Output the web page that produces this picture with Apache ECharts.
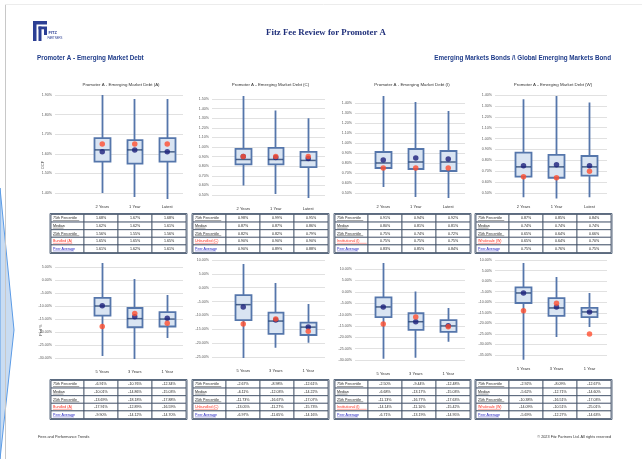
<!DOCTYPE html>
<html>
<head>
<meta charset="utf-8">
<script src="https://cdn.jsdelivr.net/npm/echarts@6/dist/echarts.min.js"></script>
<style>
  html, body { margin: 0; padding: 0; background: #fff; }
  #page { width: 642px; height: 459px; }
</style>
</head>
<body>
<div id="page"></div>
<script>
// categories
const topCats = ['2 Years', '1 Year', 'Latest'];
const bottomCats = ['5 Years', '3 Years', '1 Year'];
const shareClasses = ['Bundled (A)', 'Unbundled (C)', 'Institutional (I)', 'Wholesale (W)'];
const panelTitles = ['Promoter A - Emerging Market Debt (A)', 'Promoter A - Emerging Market Debt (C)',
  'Promoter A - Emerging Market Debt (I)', 'Promoter A - Emerging Market Debt (W)'];

// ongoing charges, % : [min, 25th, median, 75th, max] per period
const feeA = [[1.40, 1.56, 1.62, 1.68, 1.90], [1.38, 1.55, 1.62, 1.67, 1.88], [1.37, 1.56, 1.61, 1.68, 1.88]];
const feeC = [[0.60, 0.82, 0.87, 0.98, 1.53], [0.51, 0.82, 0.87, 0.99, 1.38], [0.47, 0.79, 0.86, 0.95, 1.30]];
const feeI = [[0.56, 0.75, 0.80, 0.91, 1.47], [0.46, 0.74, 0.81, 0.94, 1.41], [0.45, 0.72, 0.81, 0.92, 1.32]];
const feeW = [[0.46, 0.65, 0.74, 0.87, 1.36], [0.45, 0.64, 0.74, 0.85, 1.39], [0.46, 0.66, 0.74, 0.84, 1.33]];
const feeShare = [[1.65, 1.65, 1.65], [0.90, 0.90, 0.90], [0.75, 0.75, 0.75], [0.65, 0.64, 0.70]];
const feePeer = [[1.61, 1.62, 1.61], [0.90, 0.89, 0.88], [0.83, 0.85, 0.84], [0.75, 0.76, 0.75]];

// performance, % : [min, 25th, median, 75th, max] per period
const perfA = [[-29.2, -13.69, -10.01, -6.91, 6.5], [-30.4, -18.18, -14.86, -10.76, 0.4], [-22.3, -17.88, -15.03, -12.34, -5.8]];
const perfC = [[-25.4, -11.73, -6.11, -2.67, 8.6], [-21.7, -16.67, -12.03, -8.98, 1.7], [-19.9, -17.07, -14.22, -12.61, -5.9]];
const perfI = [[-29.5, -11.13, -6.68, -2.50, 12.6], [-29.0, -16.77, -13.17, -9.44, 0.1], [-22.0, -17.63, -15.03, -12.48, -7.1]];
const perfW = [[-37.3, -10.38, -5.62, -2.92, 8.6], [-26.5, -16.51, -12.71, -8.09, 2.0], [-21.7, -17.03, -14.60, -12.67, -5.6]];
const perfShare = [[-17.91, -12.89, -16.59], [-13.05, -11.27, -15.73], [-14.14, -11.10, -15.42], [-14.09, -10.51, -25.01]];
const perfPeer = [[-9.90, -14.12, -14.70], [-6.97, -11.65, -14.16], [-6.71, -13.19, -14.95], [-5.69, -12.27, -14.63]];

// y axis ranges [min, max, interval]
const feeRanges = [[1.40, 1.90, 0.10], [0.50, 1.50, 0.10], [0.50, 1.40, 0.10], [0.50, 1.40, 0.10]];
const perfRanges = [[-30, 5, 5], [-25, 10, 5], [-30, 10, 5], [-35, 10, 5]];

const feeBoxes = [feeA, feeC, feeI, feeW];
const perfBoxes = [perfA, perfC, perfI, perfW];

// layout (pixels)
const lineLeft = [55, 212, 355, 495];
const lineRight = [183, 325, 465, 607];
const boxLeft = [86, 227, 367, 507];
const boxW = [97.5, 97.5, 97.5, 99];
const topGrid = [[95, 98], [99, 96], [103, 90], [95, 98]];
const botGrid = [[267, 91], [260, 97], [269, 91], [260, 95]];
const tableLeft = [51, 193, 335, 476];

const BOX_BORDER = '#5576ab';
const BOX_FILL = '#d9e4f2';
const MEDIAN = '#23406f';
const PEER = '#1b1f7a';
const SHARE = '#ff4d2e';

const grids = [], xAxes = [], yAxes = [], series = [];

function addPanel(i, top, height, range, boxes, share, peer, cats) {
  const g = grids.length;
  grids.push({ left: lineLeft[i], top: top, width: lineRight[i] - lineLeft[i], height: height });
  grids.push({ left: boxLeft[i], top: top, width: boxW[i], height: height });
  xAxes.push({ gridIndex: g, type: 'value', show: false });
  yAxes.push({
    gridIndex: g, type: 'value', min: range[0], max: range[1], interval: range[2],
    axisLine: { show: false }, axisTick: { show: false },
    splitLine: { lineStyle: { color: '#d9d9d9', width: 0.8 } },
    axisLabel: { fontSize: 3.6, color: '#595959', margin: 3, fontFamily: 'Liberation Sans',
      formatter: v => v.toFixed(2) + '%' }
  });
  xAxes.push({
    gridIndex: g + 1, type: 'category', data: cats,
    axisLine: { show: false }, axisTick: { show: false },
    axisLabel: { fontSize: 4, color: '#333', margin: 12, fontFamily: 'Liberation Sans' }
  });
  yAxes.push({ gridIndex: g + 1, type: 'value', min: range[0], max: range[1], show: false });

  series.push({
    type: 'candlestick', xAxisIndex: g + 1, yAxisIndex: g + 1, barWidth: 16, clip: false,
    itemStyle: { color: BOX_FILL, color0: BOX_FILL, borderColor: BOX_BORDER, borderColor0: BOX_BORDER, borderWidth: 1.8 },
    data: boxes.map(b => [b[1], b[3], b[0], b[4]])
  });
  series.push({
    type: 'scatter', xAxisIndex: g + 1, yAxisIndex: g + 1, symbol: 'rect', symbolSize: [15, 1.5], clip: false,
    itemStyle: { color: MEDIAN }, data: boxes.map(b => b[2])
  });
  series.push({
    type: 'scatter', xAxisIndex: g + 1, yAxisIndex: g + 1, symbolSize: 5.5, clip: false,
    itemStyle: { color: PEER }, data: peer
  });
  series.push({
    type: 'scatter', xAxisIndex: g + 1, yAxisIndex: g + 1, symbolSize: 5.5, clip: false,
    itemStyle: { color: SHARE }, data: share
  });
}

for (let i = 0; i < 4; i++) {
  addPanel(i, topGrid[i][0], topGrid[i][1], feeRanges[i], feeBoxes[i], feeShare[i], feePeer[i], topCats);
  addPanel(i, botGrid[i][0], botGrid[i][1], perfRanges[i], perfBoxes[i], perfShare[i], perfPeer[i], bottomCats);
}

// graphic: header, titles, tables, footer
const graphic = [];
function text(x, y, str, size, color, opts) {
  graphic.push({
    type: 'text', x: x, y: y,
    style: Object.assign({ text: str, fontSize: size, fill: color, fontFamily: 'Liberation Sans',
      textAlign: 'left', textVerticalAlign: 'middle' }, opts || {})
  });
}

// page edge and left ribbon
graphic.push({ type: 'polygon', shape: { points: [[0, 188], [14, 330], [0, 459]] },
  style: { fill: '#c9dcf2', stroke: '#5b9be6', lineWidth: 1 } });
graphic.push({ type: 'line', shape: { x1: 5.5, y1: 4, x2: 5.5, y2: 459 }, style: { stroke: '#c8c8c8', lineWidth: 1 } });
graphic.push({ type: 'line', shape: { x1: 5, y1: 4.5, x2: 642, y2: 4.5 }, style: { stroke: '#ececec', lineWidth: 1 } });

// logo
const LOGO = '#2c3f94';
graphic.push({ type: 'rect', shape: { x: 33, y: 21, width: 3.5, height: 20 }, style: { fill: LOGO } });
graphic.push({ type: 'rect', shape: { x: 33, y: 21, width: 14, height: 3.5 }, style: { fill: LOGO } });
graphic.push({ type: 'rect', shape: { x: 38.5, y: 26.5, width: 3, height: 14.5 }, style: { fill: LOGO } });
graphic.push({ type: 'rect', shape: { x: 38.5, y: 26.5, width: 8.5, height: 2.8 }, style: { fill: LOGO } });
graphic.push({ type: 'rect', shape: { x: 44, y: 29, width: 3, height: 6 }, style: { fill: LOGO } });
text(48.5, 33, 'FITZ', 4, LOGO, { fontWeight: 'bold' });
text(47.5, 38.5, 'PARTNERS', 2.8, LOGO);

text(326, 33, 'Fitz Fee Review for Promoter A', 8.8, '#1f2f7a', { textAlign: 'center', fontFamily: 'Liberation Serif', fontWeight: 'bold' });
text(37, 58, 'Promoter A - Emerging Market Debt', 6.3, '#1f3c8a', { fontWeight: 'bold' });
text(611, 58, 'Emerging Markets Bonds /\\ Global Emerging Markets Bond', 6.3, '#1f3c8a', { textAlign: 'right', fontWeight: 'bold' });

for (let i = 0; i < 4; i++) {
  text((lineLeft[i] + lineRight[i]) / 2 + 2, 85, panelTitles[i], 4.4, '#333', { textAlign: 'center' });
}
graphic.push({ type: 'text', x: 43, y: 165, rotation: Math.PI / 2,
  style: { text: 'OCF', fontSize: 3.8, fill: '#444', textAlign: 'center', textVerticalAlign: 'middle', fontFamily: 'Liberation Sans' } });
graphic.push({ type: 'text', x: 41, y: 330, rotation: Math.PI / 2,
  style: { text: 'Perf %', fontSize: 3.8, fill: '#444', textAlign: 'center', textVerticalAlign: 'middle', fontFamily: 'Liberation Sans' } });

// tables
const LABW = 33, COLW = 34, ROWH = 7.6;
function fmt(v) { return v.toFixed(2) + '%'; }
function addTable(i, y0, boxes, share, peer) {
  const rows = [
    ['75th Percentile', boxes.map(b => fmt(b[3])), '#222'],
    ['Median', boxes.map(b => fmt(b[2])), '#222'],
    ['25th Percentile', boxes.map(b => fmt(b[1])), '#222'],
    [shareClasses[i], share.map(fmt), '#ff2a1a'],
    ['Peer Average', peer.map(fmt), '#2020c0']
  ];
  const x0 = tableLeft[i];
  const w = LABW + 3 * COLW;
  graphic.push({ type: 'rect', shape: { x: x0 - 1, y: y0 - 1, width: w + 2, height: ROWH * 5 + 2 },
    style: { fill: 'none', stroke: '#5b6b80', lineWidth: 1 } });
  rows.forEach((r, k) => {
    const y = y0 + k * ROWH;
    graphic.push({ type: 'rect', shape: { x: x0, y: y, width: LABW, height: ROWH },
      style: { fill: '#fff', stroke: '#3e4d63', lineWidth: 0.8 } });
    text(x0 + 2, y + ROWH / 2, r[0], 3.6, r[2]);
    graphic.push({ type: 'line', shape: { x1: x0 + 2, y1: y + ROWH / 2 + 2.2, x2: x0 + 2 + r[0].length * 1.75, y2: y + ROWH / 2 + 2.2 },
      style: { stroke: r[2], lineWidth: 0.4 } });
    for (let c = 0; c < 3; c++) {
      const x = x0 + LABW + c * COLW;
      graphic.push({ type: 'rect', shape: { x: x, y: y, width: COLW, height: ROWH },
        style: { fill: '#fff', stroke: '#3e4d63', lineWidth: 0.8 } });
      text(x + COLW / 2, y + ROWH / 2, r[1][c], 3.6, '#222', { textAlign: 'center' });
    }
  });
}
for (let i = 0; i < 4; i++) {
  addTable(i, 214.5, feeBoxes[i], feeShare[i], feePeer[i]);
  addTable(i, 380.5, perfBoxes[i], perfShare[i], perfPeer[i]);
}

text(38, 437, 'Fees and Performance Trends', 3.8, '#333');
text(611, 437, '\u00a9 2023 Fitz Partners Ltd. All rights reserved', 3.8, '#333', { textAlign: 'right' });

const chart = echarts.init(document.getElementById('page'));
chart.setOption({
  backgroundColor: '#fff',
  animation: false,
  grid: grids,
  xAxis: xAxes,
  yAxis: yAxes,
  series: series,
  graphic: graphic
});
</script>
</body>
</html>
